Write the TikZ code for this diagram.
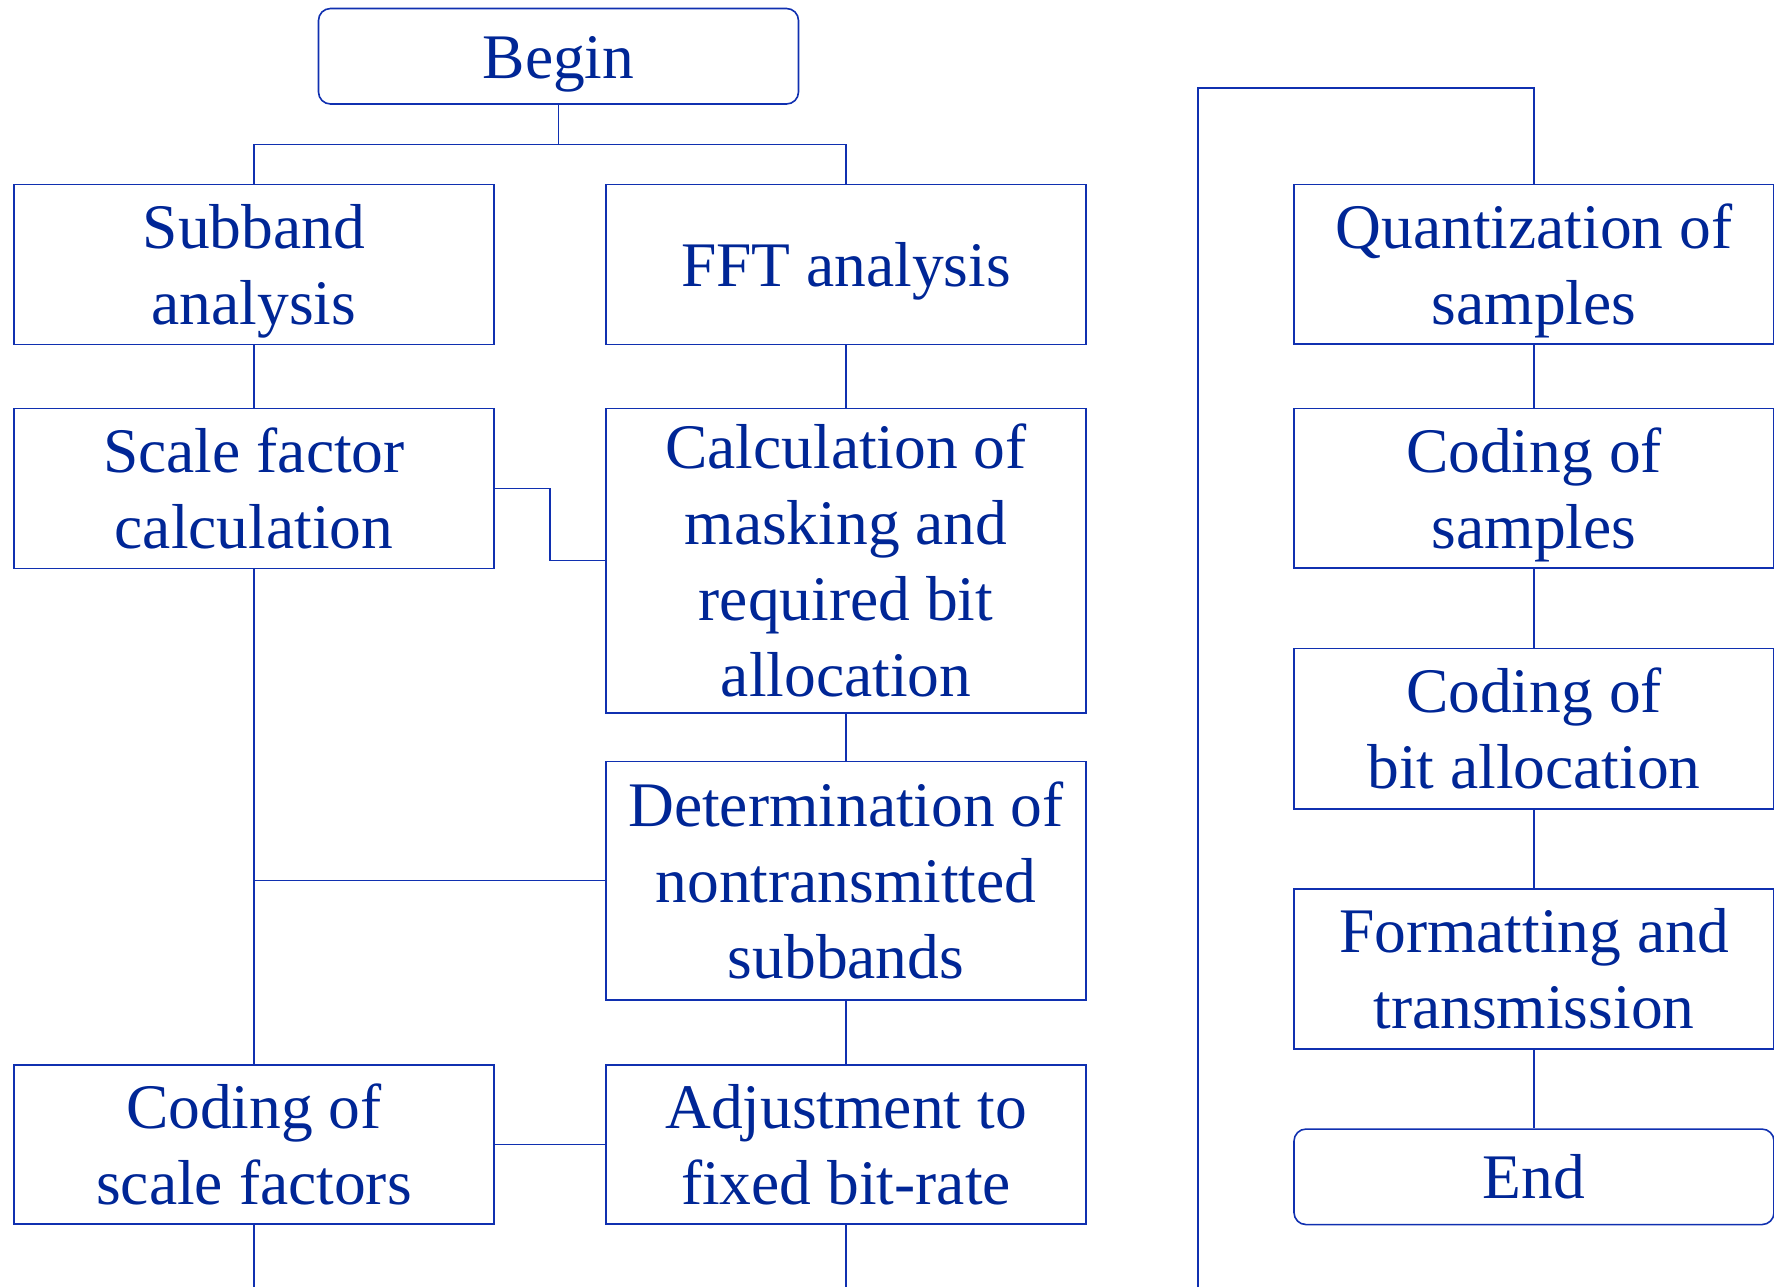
\documentclass[tikz,border=0pt]{standalone}
\usepackage{fontspec}
\setmainfont{Liberation Serif}
\definecolor{lineblue}{RGB}{16,48,176}
\definecolor{textblue}{RGB}{0,38,150}
\newcommand{\lowtext}[1]{\raisebox{-3.5pt}[\height][\depth]{\begin{tabular}{@{}c@{}}#1\end{tabular}}}
\begin{document}
\begin{tikzpicture}[x=0.5pt,y=-0.5pt,
  box/.style={draw=lineblue,line width=0.8pt,rectangle,inner sep=0pt,
    minimum width=240pt,align=center,text=textblue,
    font=\fontsize{31.75pt}{38pt}\selectfont},
  rbox/.style={box,rounded corners=6pt},
  conn/.style={draw=lineblue,line width=0.7pt}]
\useasboundingbox (0,0) rectangle (1774,1287);
% left column
\node[rbox,minimum height=47.75pt] (begin) at (558.5,56.25) {\lowtext{Begin}};
\node[box,minimum height=80pt] (sub) at (254,264.5) {\lowtext{Subband\\analysis}};
\node[box,minimum height=80pt] (fft) at (846,264.5) {\lowtext{FFT analysis}};
\node[box,minimum height=80pt] (scale) at (254,488.5) {Scale factor\\calculation};
\node[box,minimum height=152.2pt] (calc) at (846,560.6) {Calculation of\\masking and\\required bit\\allocation};
\node[box,minimum height=119.3pt] (det) at (846,880.7) {Determination of\\nontransmitted\\subbands};
\node[box,minimum height=79.7pt] (csf) at (254,1144.4) {Coding of\\scale factors};
\node[box,minimum height=79.7pt] (adj) at (846,1144.4) {Adjustment to\\fixed bit-rate};
% right column
\node[box,minimum height=79.8pt] (quant) at (1534,264.2) {\lowtext{Quantization of\\samples}};
\node[box,minimum height=79.8pt] (cs) at (1534,488.2) {\lowtext{Coding of\\samples}};
\node[box,minimum height=80.3pt] (cba) at (1534,728.7) {Coding of\\bit allocation};
\node[box,minimum height=79.8pt] (fmt) at (1534,969) {Formatting and\\transmission};
\node[rbox,minimum height=47.75pt] (end) at (1534,1176.8) {End};
% coordinates
\coordinate (jb) at (558.5,144.3);
\coordinate (kink) at (550,524);
\coordinate (jd) at (254,880.7);
\coordinate (b1) at (254,1287);
\coordinate (b2) at (846,1287);
\coordinate (b3) at (1198,1287);
\coordinate (top) at (1198,88);
% connectors
\draw[conn] (begin.south) -- (jb);
\draw[conn] (sub.north) |- (jb) -| (fft.north);
\draw[conn] (sub.south) -- (scale.north);
\draw[conn] (fft.south) -- (calc.north);
\draw[conn] (scale.east) -| (kink) |- (calc.west);
\draw[conn] (scale.south) -- (csf.north);
\draw[conn] (det.west) -- (jd);
\draw[conn] (calc.south) -- (det.north);
\draw[conn] (det.south) -- (adj.north);
\draw[conn] (csf.east) -- (adj.west);
\draw[conn] (csf.south) -- (b1);
\draw[conn] (adj.south) -- (b2);
\draw[conn] (b3) -- (top) -| (quant.north);
\draw[conn] (quant.south) -- (cs.north);
\draw[conn] (cs.south) -- (cba.north);
\draw[conn] (cba.south) -- (fmt.north);
\draw[conn] (fmt.south) -- (end.north);
\end{tikzpicture}
\end{document}
